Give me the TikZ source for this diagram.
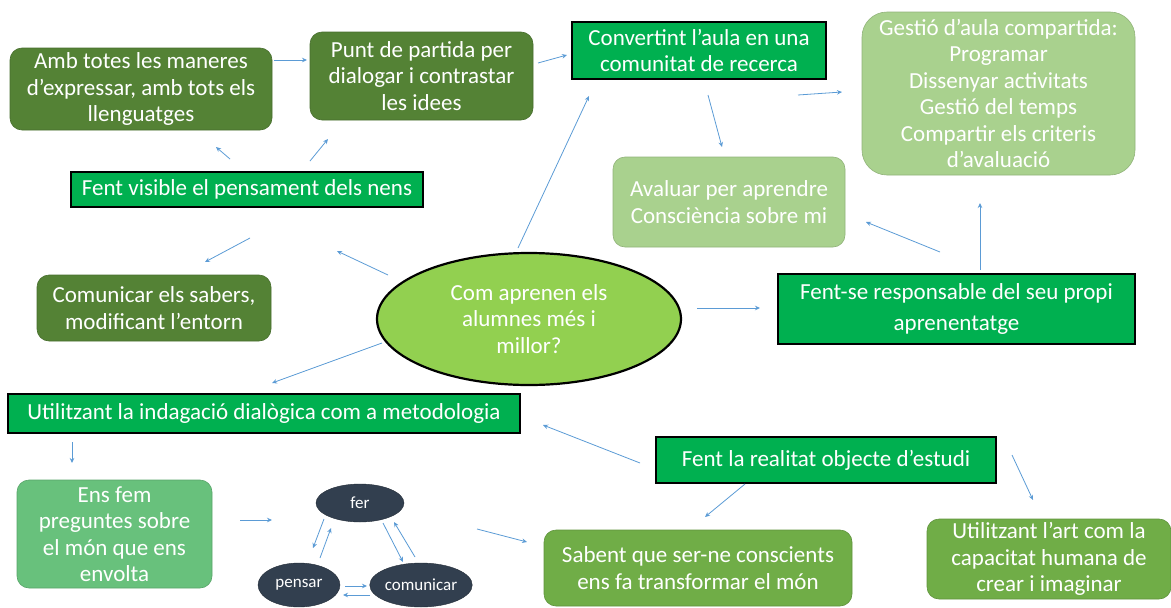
\documentclass[tikz,border=0pt]{standalone}
\usepackage{fontspec}
\setmainfont{Carlito}
\usetikzlibrary{arrows.meta,shapes.geometric}
\definecolor{dkgreen}{RGB}{84,130,53}
\definecolor{brgreen}{RGB}{0,176,80}
\definecolor{ltgreen}{RGB}{169,209,142}
\definecolor{midgreen}{RGB}{104,193,124}
\definecolor{olgreen}{RGB}{112,173,71}
\definecolor{elgreen}{RGB}{146,208,80}
\definecolor{navy}{RGB}{50,63,79}
\definecolor{arrowblue}{RGB}{91,155,213}
\tikzset{
  txt/.style={font=\fontsize{23}{26.5}\selectfont, text=white, align=center, inner sep=0pt},
  rbox/.style={txt, rounded corners=12pt, draw=#1!85!black, line width=0.6pt, fill=#1},
  gbox/.style={txt, fill=brgreen, draw=black, line width=2.6pt},
  small/.style={ellipse, fill=navy, draw=navy!70!black, text=white, font=\fontsize{17}{19}\selectfont, inner sep=0pt},
  conn/.style={draw=arrowblue, line width=0.8pt, -{Stealth[length=5pt,width=4.5pt]}},
}
\begin{document}
\begin{tikzpicture}[x=1pt,y=-1pt]
\useasboundingbox (0,0) rectangle (1171,608);
% boxes
\node[rbox=dkgreen, minimum width=262pt, minimum height=82pt] (b1) at (141,89) {Amb totes les maneres\\d’expressar, amb tots els\\llenguatges};
\node[rbox=dkgreen, minimum width=223pt, minimum height=88pt] (b2) at (421.5,76) {Punt de partida per\\dialogar i contrastar\\les idees};
\node[gbox, minimum width=254pt, minimum height=57pt] (b3) at (699,50.5) {Convertint l’aula en una\\comunitat de recerca};
\node[rbox=ltgreen, rounded corners=25pt, minimum width=273pt, minimum height=163pt] (b4) at (998.5,93.5) {Gestió d’aula compartida:\\Programar\\Dissenyar activitats\\Gestió del temps\\Compartir els criteris\\d’avaluació};
\node[rbox=ltgreen, minimum width=232pt, minimum height=90pt] (b5) at (729,202) {Avaluar per aprendre\\Consciència sobre mi};
\node[gbox, minimum width=352pt, minimum height=35pt] (b6) at (247,189.5) {Fent visible el pensament dels nens};
\node[rbox=dkgreen, minimum width=234pt, minimum height=66pt] (b7) at (154,308) {Comunicar els sabers,\\modificant l’entorn};
\node[txt, ellipse, fill=elgreen, draw=black, line width=2.2pt, minimum width=304pt, minimum height=132pt] (q) at (529,319) {Com aprenen els\\alumnes més i\\millor?};
\node[gbox, font=\fontsize{23}{31}\selectfont, minimum width=357pt, minimum height=70pt] (b9) at (956.5,309) {Fent-se responsable del seu propi\\aprenentatge};
\node[gbox, minimum width=512pt, minimum height=39pt] (b10) at (264,413.5) {Utilitzant la indagació dialògica com a metodologia};
\node[gbox, minimum width=340pt, minimum height=46pt] (b11) at (826,460) {Fent la realitat objecte d’estudi};
\node[rbox=midgreen, minimum width=195pt, minimum height=108pt] (b12) at (114.5,534) {Ens fem\\preguntes sobre\\el món que ens\\envolta};
\node[rbox=olgreen, minimum width=308pt, minimum height=76pt] (b14) at (698,568) {Sabent que ser-ne conscients\\ens fa transformar el món};
\node[rbox=olgreen, minimum width=244pt, minimum height=80pt] (b15) at (1049,559) {Utilitzant l’art com la\\capacitat humana de\\crear i imaginar};
% cycle
\node[small, minimum width=88pt, minimum height=38pt] (fer) at (360,503) {fer};
\node[small, minimum width=82pt, minimum height=44pt] (pensar) at (299,585) {pensar};
\node[small, minimum width=98pt, minimum height=44pt] (comunicar) at (421,585) {comunicar};
% arrow end points
\coordinate (a1s) at (274,60);  \coordinate (a1e) at (307,60);
\coordinate (a2s) at (538,63);  \coordinate (a2e) at (567,55);
\coordinate (a3s) at (518,248); \coordinate (a3e) at (589,96);
\coordinate (a4s) at (708,95);  \coordinate (a4e) at (722,147);
\coordinate (a5s) at (798,95);  \coordinate (a5e) at (842,92);
\coordinate (a6s) at (980,270); \coordinate (a6e) at (980,203);
\coordinate (a7s) at (940,252); \coordinate (a7e) at (866,222);
\coordinate (a8s) at (230,159); \coordinate (a8e) at (216,147);
\coordinate (a9s) at (310,161); \coordinate (a9e) at (328,139);
\coordinate (a10s) at (388,275); \coordinate (a10e) at (337,251);
\coordinate (a11s) at (250,238); \coordinate (a11e) at (205,262);
\coordinate (a12s) at (697,308); \coordinate (a12e) at (760,308);
\coordinate (a13s) at (382,343); \coordinate (a13e) at (272,383);
\coordinate (a14s) at (72,442); \coordinate (a14e) at (72,463);
\coordinate (a15s) at (240,520); \coordinate (a15e) at (272,520);
\coordinate (a16s) at (640,463); \coordinate (a16e) at (543,425);
\coordinate (a17s) at (745,484); \coordinate (a17e) at (705,517);
\coordinate (a18s) at (1012,455); \coordinate (a18e) at (1033,500);
\coordinate (a19s) at (477,529); \coordinate (a19e) at (527,542);
\coordinate (c1s) at (324,519); \coordinate (c1e) at (313,548);
\coordinate (c2s) at (320,558); \coordinate (c2e) at (331,528);
\coordinate (c3s) at (383,523); \coordinate (c3e) at (403,562);
\coordinate (c4s) at (415,557); \coordinate (c4e) at (394,522);
\coordinate (c5s) at (345,586); \coordinate (c5e) at (367,586);
\coordinate (c6s) at (370,595); \coordinate (c6e) at (343,595);
\foreach \a in {a1,a2,a3,a4,a5,a6,a7,a8,a9,a10,a11,a12,a13,a14,a15,a16,a17,a18,a19,c1,c2,c3,c4,c5,c6}
  \draw[conn] (\a s) -- (\a e);
\end{tikzpicture}
\end{document}
